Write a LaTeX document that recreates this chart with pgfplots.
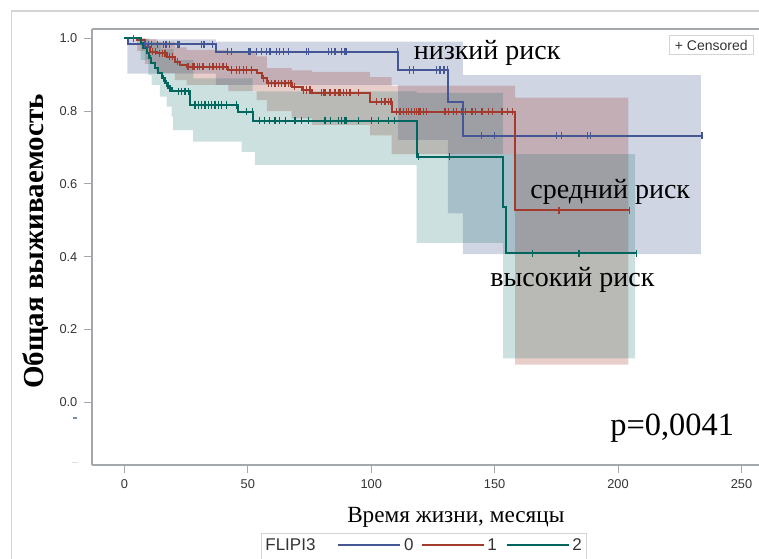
\documentclass[border=0pt]{standalone}
\usepackage{fontspec}
\setmainfont{Liberation Serif}
\setsansfont{Liberation Sans}
\newfontfamily\sansf{Liberation Sans}
\usepackage{pgfplots}
\pgfplotsset{compat=1.18}
\definecolor{cB}{HTML}{445694}
\definecolor{cR}{HTML}{A23A2E}
\definecolor{cT}{HTML}{01665E}
\definecolor{axgray}{HTML}{A4A8AC}
\definecolor{framegray}{HTML}{D4D4D4}
\definecolor{txtgray}{HTML}{333333}
\begin{document}
\begin{tikzpicture}
\useasboundingbox (-46pt,-46.5pt) rectangle (333.5pt,232.5pt);
\begin{axis}[
  at={(0pt,0pt)}, anchor=south west,
  scale only axis, width=333.5pt, height=218pt,
  xmin=-13.1, xmax=257.1, ymin=-0.172, ymax=1.0255,
  axis x line*=bottom, axis y line*=left,
  axis line style={draw=axgray, line width=0.6pt, -},
  xtick={0,50,100,150,200,250}, ytick={0,0.2,0.4,0.6,0.8,1},
  tick align=outside, major tick length=3.8pt,
  tick style={draw=axgray, line width=0.5pt},
  ticklabel style={font=\sansf\fontsize{6.4}{7}\selectfont, text=txtgray},
  /pgf/number format/assume math mode=true,
  yticklabel style={/pgf/number format/.cd, fixed, fixed zerofill, precision=1},
  xticklabel style={/pgf/number format/.cd, fixed, precision=0},
]
% confidence bands
\addplot[const plot, draw=none, fill=cB, fill opacity=0.25] coordinates {
 (1.2,0.997) (37.1,0.991) (110.9,0.991) (131.1,0.991) (137.1,0.899) (233.6,0.899)
 (233.6,0.407) (137.1,0.519) (131.1,0.721) (110.9,0.872) (37.1,0.903) (1.2,0.903)};
\addplot[const plot, draw=none, fill=cR, fill opacity=0.25] coordinates {
 (5.2,1.0) (8.3,0.998) (13.1,0.99) (20.5,0.975) (25.2,0.968) (42.1,0.962) (53.6,0.95)
 (57.7,0.918) (67.8,0.912) (76,0.908) (99.5,0.893) (108.3,0.87) (158.3,0.837) (204.2,0.837)
 (204.2,0.104) (158.3,0.682) (108.3,0.733) (99.5,0.762) (76,0.78) (67.8,0.80) (57.7,0.83)
 (53.6,0.855) (42.1,0.872) (25.2,0.885) (20.5,0.905) (13.1,0.93) (8.3,0.965) (5.2,0.965)};
\addplot[const plot, draw=none, fill=cT, fill opacity=0.2] coordinates {
 (6.6,1.0) (10,0.99) (15,0.97) (20,0.94) (28,0.89) (52,0.854) (118.4,0.85) (153.4,0.682) (206.9,0.682)
 (206.9,0.121) (153.4,0.438) (118.4,0.652) (52.9,0.688) (47.5,0.716) (27.9,0.748) (19.8,0.785)
 (19.2,0.812) (17.1,0.840) (14.4,0.872) (11.1,0.899) (9.7,0.94) (6.6,0.94)};
% survival curves
\addplot[const plot, cB, line width=1pt] coordinates {
 (0,1) (1.5,0.984) (37.1,0.963) (110.9,0.913) (131.1,0.826) (137.1,0.732) (234,0.732)};
\addplot[const plot, cR, line width=1pt] coordinates {
 (0,1) (5.2,0.995) (8.3,0.977) (10.4,0.963) (13.1,0.959) (17.1,0.949) (20.5,0.936) (22.5,0.927)
 (25.2,0.922) (42.1,0.913) (53.6,0.904) (55.6,0.890) (57.7,0.876) (67.8,0.867) (72,0.858)
 (76,0.851) (99.5,0.826) (108.3,0.798) (158.3,0.528) (204.6,0.528)};
\addplot[const plot, cT, line width=1pt] coordinates {
 (0,1) (6.6,0.986) (7.7,0.972) (9.0,0.959) (10.1,0.945) (11.0,0.931) (12.4,0.918) (13.8,0.904)
 (15.1,0.890) (16.5,0.876) (17.8,0.863) (19.2,0.854) (26.6,0.817) (46.2,0.798) (52.2,0.774)
 (118.4,0.675) (153.4,0.537) (154.6,0.409) (207.6,0.409)};
% censored marks
\addplot[only marks, mark=|, mark size=1.8pt, cB, mark options={line width=0.6pt}] coordinates {
 (8.3,0.984) (9.7,0.984) (11.1,0.984) (13.3,0.984) (15.8,0.984) (16.9,0.984) (18.2,0.984)
 (21.4,0.984) (21.8,0.984) (22.5,0.984) (31.3,0.984) (32.3,0.984) (35.8,0.984)
 (41.9,0.963) (43.5,0.963) (50.4,0.963) (50.9,0.963) (53.6,0.963) (55.6,0.963) (57.7,0.963)
 (59.0,0.963) (61.7,0.963) (63.0,0.963) (64.4,0.963) (66.4,0.963) (73.9,0.963) (74.5,0.963)
 (82.6,0.963) (84.0,0.963) (85.3,0.963) (88.0,0.963) (89.4,0.963) (90.1,0.963) (110.6,0.963)
 (115.4,0.913) (117.1,0.913) (126.5,0.913) (127.9,0.913) (129.5,0.913) (130.8,0.913)
 (144.8,0.732) (149.8,0.732) (175.2,0.732) (177.2,0.732) (187.6,0.732) (188.7,0.732) (234,0.732)};
\addplot[only marks, mark=|, mark size=1.8pt, cR, mark options={line width=0.6pt}] coordinates {
 (3.6,1) (9.5,0.977) (11.5,0.963) (12.5,0.963) (14.2,0.959) (15.5,0.959) (16.5,0.959)
 (18.2,0.949) (19.6,0.949) (21.5,0.936)
 (25.8,0.922) (27.8,0.922) (28.5,0.922) (29.6,0.922) (30.5,0.922) (31.9,0.922) (34.6,0.922)
 (35.9,0.922) (37.3,0.922) (38.7,0.922) (40.0,0.922) (41.4,0.922)
 (43.5,0.913) (45.5,0.913) (46.8,0.913) (48.2,0.913) (49.6,0.913) (51.6,0.913) (56.5,0.890)
 (58.3,0.876) (59.7,0.876) (61.0,0.876) (62.4,0.876) (63.7,0.876) (65.1,0.876) (66.4,0.876) (67.5,0.876)
 (69.0,0.867) (72.5,0.858) (73.9,0.858) (75.2,0.858)
 (79.9,0.851) (80.6,0.851) (81.3,0.851) (83.3,0.851) (85.3,0.851) (86.7,0.851) (87.4,0.851)
 (88.7,0.851) (90.1,0.851) (91.4,0.851) (94.8,0.851)
 (102.2,0.826) (104.3,0.826) (105.6,0.826) (106.9,0.826) (108.0,0.826)
 (110.3,0.798) (111.7,0.798) (113.0,0.798) (114.4,0.798) (115.1,0.798) (116.4,0.798) (117.7,0.798)
 (118.4,0.798) (119.1,0.798) (119.8,0.798) (121.1,0.798) (122.5,0.798) (129.9,0.798) (131.3,0.798)
 (133.3,0.798) (134.7,0.798) (136.7,0.798) (138.1,0.798) (140.8,0.798) (142.2,0.798) (144.9,0.798)
 (147.6,0.798) (149.0,0.798) (153.0,0.798) (155.1,0.798) (157.1,0.798)
 (176.1,0.528) (204.6,0.528)};
\addplot[only marks, mark=|, mark size=1.8pt, cT, mark options={line width=0.6pt}] coordinates {
 (10.5,0.945) (15.8,0.890) (17.1,0.876) (18.5,0.863)
 (21.8,0.854) (23.2,0.854) (24.6,0.854) (25.9,0.854)
 (28.6,0.817) (29.9,0.817) (31.3,0.817) (32.7,0.817) (34.0,0.817) (35.4,0.817) (36.7,0.817)
 (38.0,0.817) (39.4,0.817) (41.5,0.817) (45.5,0.817)
 (49.6,0.798) (52.0,0.798)
 (54.9,0.774) (56.9,0.774) (58.9,0.774) (61.0,0.774) (62.8,0.774) (65.2,0.774) (69.1,0.774)
 (71.8,0.774) (74.5,0.774) (81.3,0.774) (83.4,0.774) (86.7,0.774) (88.0,0.774) (89.4,0.774)
 (90.1,0.774) (94.8,0.774) (100.2,0.774) (102.9,0.774) (106.9,0.774) (109.6,0.774)
 (119.1,0.675) (131.6,0.675)
 (165.4,0.409) (184.2,0.409) (207.6,0.409)};
\end{axis}
% top axis line
\draw[axgray, line width=0.6pt] (0pt,218pt) -- (340pt,218pt);
% outer frame
\draw[framegray, line width=0.6pt] (-40.25pt,-50pt) -- (-40.25pt,227pt) -- (340pt,227pt);
% stray marks near y axis
\draw[cB!70, line width=0.6pt] (-9.5pt,23.5pt) -- (-7.5pt,23.5pt);
\draw[gray!25, line width=0.5pt] (-10pt,1.2pt) -- (-7pt,1.2pt);
% annotations
\node[anchor=base west, inner sep=0pt, font=\fontsize{14}{16}\selectfont] at (160.7pt,202.5pt) {низкий риск};
\node[anchor=base west, inner sep=0pt, font=\fontsize{14}{16}\selectfont] at (219pt,133.3pt) {средний риск};
\node[anchor=base west, inner sep=0pt, font=\fontsize{14}{16}\selectfont] at (199pt,89.5pt) {высокий риск};
\node[anchor=base west, inner sep=0pt, font=\fontsize{16.2}{18}\selectfont] at (259pt,15pt) {p=0,0041};
% axis labels
\node[rotate=90, inner sep=0pt, font=\bfseries\fontsize{14.5}{16}\selectfont] at (-28pt,111.75pt) {Общая выживаемость};
\node[anchor=base, inner sep=0pt, font=\fontsize{11.6}{13}\selectfont] at (181.9pt,-28.65pt) {Время жизни, месяцы};
% censored box
\draw[framegray, fill=white, line width=0.5pt] (288.65pt,205.35pt) rectangle (330.65pt,214.5pt);
\node[inner sep=0pt, text=txtgray, font=\sansf\fontsize{7}{8}\selectfont] at (309.65pt,209.9pt) {+ Censored};
% legend
\draw[framegray, line width=0.5pt] (84.85pt,-50pt) -- (84.85pt,-34.15pt) -- (247.35pt,-34.15pt) -- (247.35pt,-50pt);
\node[anchor=west, inner sep=0pt, text=txtgray, font=\sansf\fontsize{8.5}{10}\selectfont] at (86.5pt,-40pt) {FLIPI3};
\draw[cB, line width=1pt] (123.15pt,-40pt) -- (154.2pt,-40pt);
\node[inner sep=0pt, text=txtgray, font=\sansf\fontsize{8.5}{10}\selectfont] at (158.4pt,-40pt) {0};
\draw[cR, line width=1pt] (164.85pt,-40pt) -- (195.8pt,-40pt);
\node[inner sep=0pt, text=txtgray, font=\sansf\fontsize{8.5}{10}\selectfont] at (200.1pt,-40pt) {1};
\draw[cT, line width=1pt] (207.35pt,-40pt) -- (238.3pt,-40pt);
\node[inner sep=0pt, text=txtgray, font=\sansf\fontsize{8.5}{10}\selectfont] at (242.6pt,-40pt) {2};
\end{tikzpicture}
\end{document}
